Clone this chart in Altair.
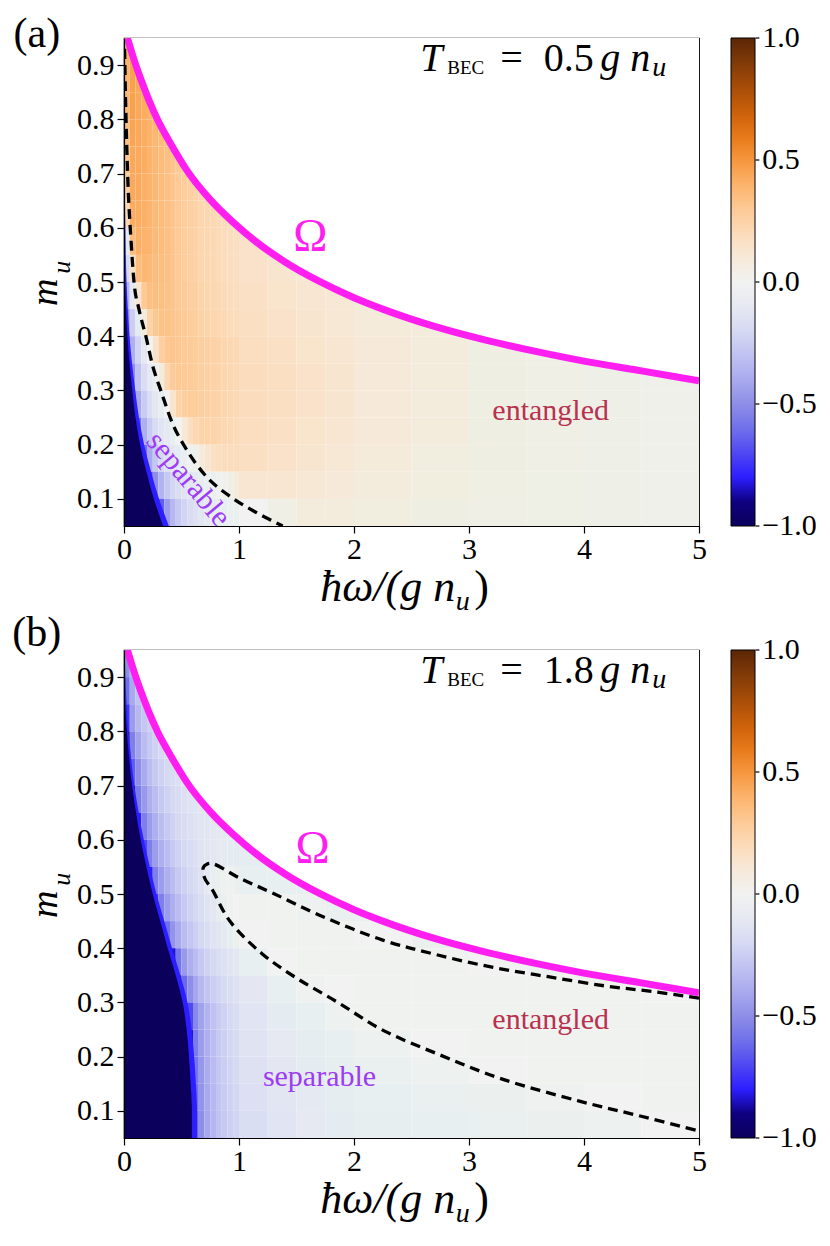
import altair as alt
import pandas as pd

FONT = "Liberation Serif"
MAGENTA = "#ff1ef0"
CRIMSON = "#b8324f"
VIOLET = "#9d3cf2"

# ---------------- heat-map cells ----------------
X_EDGES = [0, 0.05, 0.1, 0.15, 0.2, 0.25, 0.3, 0.35, 0.4, 0.45, 0.5, 0.55, 0.6, 0.65,
           0.7, 0.75, 0.8, 0.85, 0.9, 0.95, 1.0, 1.25, 1.5, 1.75, 2.0, 2.5, 3.0, 3.5,
           4.0, 4.5, 5.0]
M_EDGES = [0.95, 0.90, 0.85, 0.80, 0.75, 0.70, 0.65, 0.60, 0.55, 0.50,
           0.45, 0.40, 0.35, 0.30, 0.25, 0.20, 0.15, 0.10, 0.05]

# panel (a): rows from top (m=0.925) to bottom (m=0.075); missing cells = above Omega
GRID_A = [
    [0.40, 0.46, 0.44],
    [0.40, 0.46, 0.44, 0.42],
    [0.38, 0.46, 0.44, 0.42, 0.40, 0.38],
    [0.35, 0.45, 0.44, 0.42, 0.40, 0.38, 0.36, 0.34, 0.32],
    [0.32, 0.44, 0.43, 0.42, 0.40, 0.38, 0.36, 0.34, 0.32, 0.30, 0.28, 0.26],
    [0.28, 0.43, 0.43, 0.41, 0.40, 0.38, 0.36, 0.34, 0.32, 0.30, 0.28, 0.26, 0.24, 0.22, 0.21, 0.20],
    [0.22, 0.42, 0.42, 0.41, 0.39, 0.37, 0.36, 0.34, 0.32, 0.30, 0.28, 0.26, 0.25, 0.23, 0.22, 0.21,
     0.20, 0.19, 0.18, 0.17],
    [-0.1, 0.36, 0.41, 0.40, 0.39, 0.37, 0.36, 0.34, 0.32, 0.30, 0.28, 0.26, 0.25, 0.23, 0.22, 0.21,
     0.20, 0.19, 0.18, 0.17, 0.15, 0.13],
    [-0.2, 0.15, 0.36, 0.38, 0.37, 0.36, 0.35, 0.34, 0.32, 0.30, 0.28, 0.26, 0.25, 0.23, 0.22, 0.21,
     0.20, 0.19, 0.18, 0.17, 0.15, 0.13, 0.11],
    [-0.35, -0.1, 0.12, 0.30, 0.34, 0.35, 0.34, 0.33, 0.32, 0.30, 0.29, 0.27, 0.26, 0.24, 0.23, 0.22,
     0.21, 0.20, 0.19, 0.18, 0.16, 0.14, 0.12, 0.11, 0.09],
    [-0.5, -0.25, -0.08, 0.08, 0.25, 0.31, 0.33, 0.33, 0.32, 0.31, 0.30, 0.28, 0.27, 0.25, 0.24, 0.23,
     0.22, 0.21, 0.20, 0.19, 0.17, 0.15, 0.13, 0.11, 0.09, 0.08],
    [-0.7, -0.38, -0.22, -0.1, 0.0, 0.15, 0.27, 0.31, 0.32, 0.31, 0.30, 0.29, 0.28, 0.27, 0.26, 0.25,
     0.24, 0.23, 0.22, 0.21, 0.18, 0.16, 0.14, 0.12, 0.10, 0.08, 0.06, 0.05, 0.04],
    [-1.0, -0.5, -0.3, -0.18, -0.1, -0.03, 0.08, 0.22, 0.29, 0.30, 0.30, 0.29, 0.28, 0.27, 0.26, 0.25,
     0.24, 0.23, 0.22, 0.21, 0.19, 0.17, 0.15, 0.13, 0.10, 0.08, 0.06, 0.05, 0.04, 0.035],
    [-1.0, -0.7, -0.4, -0.26, -0.17, -0.11, -0.06, 0.0, 0.14, 0.24, 0.27, 0.28, 0.28, 0.27, 0.26, 0.25,
     0.24, 0.23, 0.22, 0.21, 0.19, 0.17, 0.15, 0.13, 0.10, 0.08, 0.06, 0.05, 0.04, 0.035],
    [-1.0, -1.0, -0.6, -0.38, -0.26, -0.18, -0.13, -0.09, -0.05, 0.0, 0.10, 0.18, 0.22, 0.24, 0.24, 0.24,
     0.23, 0.22, 0.21, 0.20, 0.18, 0.16, 0.14, 0.12, 0.10, 0.08, 0.06, 0.05, 0.04, 0.035],
    [-1.0, -1.0, -1.0, -0.6, -0.4, -0.28, -0.2, -0.15, -0.11, -0.08, -0.05, -0.02, 0.03, 0.09, 0.13, 0.16,
     0.18, 0.19, 0.19, 0.19, 0.17, 0.15, 0.13, 0.11, 0.09, 0.07, 0.06, 0.05, 0.04, 0.035],
    [-1.0, -1.0, -1.0, -1.0, -0.7, -0.5, -0.36, -0.27, -0.21, -0.17, -0.14, -0.11, -0.09, -0.07, -0.05,
     -0.03, -0.01, 0.02, 0.05, 0.08, 0.12, 0.12, 0.11, 0.10, 0.08, 0.07, 0.055, 0.045, 0.04, 0.035],
    [-1.0, -1.0, -1.0, -1.0, -1.0, -1.0, -0.65, -0.45, -0.34, -0.27, -0.22, -0.18, -0.15, -0.12, -0.1,
     -0.08, -0.06, -0.05, -0.04, -0.03, 0.0, 0.05, 0.08, 0.08, 0.07, 0.06, 0.05, 0.045, 0.04, 0.035],
]
# panel (b)
GRID_B = [
    [-0.5, -0.35, -0.28],
    [-0.6, -0.4, -0.3, -0.25],
    [-0.75, -0.45, -0.34, -0.28, -0.24, -0.21],
    [-1.0, -0.55, -0.42, -0.33, -0.27, -0.23, -0.2, -0.18, -0.16],
    [-1.0, -0.65, -0.5, -0.4, -0.32, -0.27, -0.23, -0.2, -0.18, -0.16, -0.14, -0.13],
    [-1.0, -0.9, -0.56, -0.46, -0.38, -0.32, -0.27, -0.23, -0.2, -0.18, -0.16, -0.14, -0.13, -0.12,
     -0.11, -0.1],
    [-1.0, -1.0, -0.8, -0.55, -0.45, -0.38, -0.32, -0.27, -0.23, -0.2, -0.18, -0.16, -0.14, -0.13,
     -0.12, -0.11, -0.1, -0.09, -0.085, -0.08],
    [-1.0, -1.0, -1.0, -0.7, -0.55, -0.45, -0.38, -0.32, -0.27, -0.23, -0.2, -0.18, -0.16, -0.14,
     -0.12, -0.11, -0.1, -0.09, -0.08, -0.075, -0.07, -0.06],
    [-1.0, -1.0, -1.0, -1.0, -0.8, -0.55, -0.45, -0.38, -0.32, -0.27, -0.23, -0.2, -0.17, -0.15,
     -0.1, -0.05, -0.03, -0.02, -0.02, -0.03, -0.05, -0.05, -0.05],
    [-1.0, -1.0, -1.0, -1.0, -1.0, -0.75, -0.55, -0.45, -0.38, -0.32, -0.27, -0.23, -0.2, -0.17,
     -0.14, -0.11, -0.07, -0.03, -0.01, 0.0, 0.01, 0.01, -0.02, -0.04, -0.04],
    [-1.0, -1.0, -1.0, -1.0, -1.0, -1.0, -0.9, -0.6, -0.48, -0.4, -0.33, -0.28, -0.24, -0.2,
     -0.17, -0.14, -0.12, -0.09, -0.06, -0.03, 0.0, 0.01, 0.01, 0.01, 0.0, -0.03],
    [-1.0, -1.0, -1.0, -1.0, -1.0, -1.0, -1.0, -1.0, -0.85, -0.58, -0.46, -0.38, -0.32, -0.27,
     -0.23, -0.2, -0.17, -0.15, -0.13, -0.11, -0.05, 0.0, 0.01, 0.01, 0.01, 0.01, 0.0, -0.02, -0.03],
    [-1.0, -1.0, -1.0, -1.0, -1.0, -1.0, -1.0, -1.0, -1.0, -1.0, -0.62, -0.5, -0.41, -0.34,
     -0.29, -0.25, -0.22, -0.19, -0.17, -0.15, -0.11, -0.05, -0.01, 0.0, 0.01, 0.01, 0.01, 0.01, 0.01, 0.0],
    [-1.0, -1.0, -1.0, -1.0, -1.0, -1.0, -1.0, -1.0, -1.0, -1.0, -1.0, -0.7, -0.52, -0.43,
     -0.36, -0.3, -0.26, -0.23, -0.2, -0.18, -0.13, -0.08, -0.05, -0.02, 0.01, 0.01, 0.01, 0.01, 0.01, 0.01],
    [-1.0, -1.0, -1.0, -1.0, -1.0, -1.0, -1.0, -1.0, -1.0, -1.0, -1.0, -0.85, -0.56, -0.45,
     -0.38, -0.32, -0.27, -0.24, -0.21, -0.19, -0.14, -0.1, -0.07, -0.05, -0.02, 0.0, 0.01, 0.01, 0.01, 0.01],
    [-1.0, -1.0, -1.0, -1.0, -1.0, -1.0, -1.0, -1.0, -1.0, -1.0, -1.0, -0.95, -0.58, -0.47,
     -0.39, -0.33, -0.28, -0.25, -0.22, -0.2, -0.15, -0.11, -0.08, -0.06, -0.04, -0.02, 0.0, 0.01, 0.01, 0.01],
    [-1.0, -1.0, -1.0, -1.0, -1.0, -1.0, -1.0, -1.0, -1.0, -1.0, -1.0, -1.0, -0.6, -0.48,
     -0.4, -0.34, -0.29, -0.26, -0.23, -0.21, -0.16, -0.12, -0.09, -0.07, -0.05, -0.04, -0.03, -0.01, 0.0, 0.01],
    [-1.0, -1.0, -1.0, -1.0, -1.0, -1.0, -1.0, -1.0, -1.0, -1.0, -1.0, -1.0, -0.62, -0.5,
     -0.41, -0.35, -0.3, -0.27, -0.24, -0.22, -0.17, -0.13, -0.1, -0.08, -0.06, -0.05, -0.04, -0.03, -0.02, 0.0],
]

# saturated region (value <= -1) and its bright-blue rim: right edge per m
DARK_A_M = [0.05, 0.10, 0.15, 0.20, 0.25, 0.30, 0.35, 0.40, 0.45, 0.50, 0.60, 0.70, 0.95]
DARK_A_X = [0.34, 0.26, 0.195, 0.14, 0.10, 0.072, 0.048, 0.03, 0.018, 0.01, 0.005, 0.002, 0.0]
RIM_A_X = [0.39, 0.305, 0.235, 0.175, 0.13, 0.098, 0.07, 0.048, 0.033, 0.022, 0.012, 0.006, 0.002]

DARK_B_M = [0.05, 0.10, 0.15, 0.20, 0.25, 0.30, 0.35, 0.40, 0.45, 0.50, 0.55, 0.60, 0.65,
            0.70, 0.75, 0.80, 0.85, 0.90, 0.95]
DARK_B_X = [0.59, 0.59, 0.58, 0.565, 0.545, 0.51, 0.45, 0.38, 0.315, 0.25, 0.195, 0.145, 0.105,
            0.07, 0.045, 0.025, 0.01, 0.003, 0.0]
RIM_B_X = [0.635, 0.635, 0.625, 0.61, 0.588, 0.552, 0.49, 0.418, 0.35, 0.282, 0.225, 0.172, 0.128,
           0.09, 0.062, 0.04, 0.022, 0.012, 0.005]

# ---------------- curves ----------------
OMEGA_X = [0.03, 0.08, 0.15, 0.29, 0.42, 0.55, 0.75, 0.95, 1.15, 1.40, 1.70, 2.00,
           2.25, 2.70, 3.12, 3.60, 4.00, 4.50, 5.00]
OMEGA_M = [0.95, 0.915, 0.872, 0.80, 0.75, 0.705, 0.652, 0.61, 0.574, 0.537, 0.501, 0.471,
           0.450, 0.418, 0.394, 0.371, 0.354, 0.336, 0.318]

SEP_A_X = [0.005, 0.012, 0.02, 0.035, 0.06, 0.087, 0.13, 0.19, 0.25, 0.32, 0.42,
           0.535, 0.7, 0.94, 1.15, 1.38]
SEP_A_M = [0.93, 0.85, 0.78, 0.68, 0.58, 0.50, 0.45, 0.40, 0.345, 0.30, 0.24,
           0.194, 0.145, 0.102, 0.075, 0.05]

SEP_B_X = [5.0, 4.6, 4.2, 3.7, 3.2, 2.7, 2.25, 1.7, 1.3, 1.0, 0.77, 0.72, 0.69,
           0.70, 0.77, 0.92, 1.2, 1.5, 1.86, 2.24, 2.75, 3.27, 3.96, 4.48, 5.0]
SEP_B_M = [0.308, 0.320, 0.330, 0.347, 0.365, 0.389, 0.415, 0.461, 0.501, 0.53, 0.556, 0.555, 0.549,
           0.53, 0.507, 0.45, 0.39, 0.345, 0.30, 0.25, 0.203, 0.16, 0.118, 0.091, 0.063]

# ---------------- colour map / colour bar ----------------
CMAP_VALUES = [-1.0, -0.9, -0.85, -0.8, -0.7, -0.6, -0.5, -0.4, -0.3, -0.2, -0.1,
               0.0, 0.1, 0.2, 0.3, 0.4, 0.5, 0.6, 0.7, 0.8, 0.9, 1.0]
CMAP_COLORS = ["#0b005c", "#0e0080", "#1d12d8", "#2c1eff", "#5048f2", "#7070ea",
               "#8e8ee8", "#a9aaee", "#c0c2f2", "#d6d9f2", "#e6e9f2", "#f1f2f1",
               "#f7e9d9", "#fcdbb9", "#fdc995", "#fcb36b", "#f6963e", "#e67818",
               "#c95f0a", "#a64c08", "#803a07", "#5c2606"]
CBAR_TICKS = [-1.0, -0.5, 0.0, 0.5, 1.0]
CBAR_LABELS = ["\u22121.0", "\u22120.5", "0.0", "0.5", "1.0"]

T_VALUES = ["0.5", "1.8"]
LETTERS = ["(a)", "(b)"]

M_LO, M_HI = 0.05, 0.95


def grid_frame(grid):
    rows = []
    ncol = len(X_EDGES) - 1
    for i, row in enumerate(grid):
        assert len(row) <= ncol
        for j, v in enumerate(row):
            rows.append({"x0": X_EDGES[j], "x1": X_EDGES[j + 1],
                         "m0": M_EDGES[i + 1], "m1": M_EDGES[i], "v": v})
    return pd.DataFrame(rows)


xscale = alt.Scale(domain=[0, 5], nice=False, zero=False)
yscale = alt.Scale(domain=[M_LO, M_HI], nice=False, zero=False)
cscale = alt.Scale(type="linear", domain=CMAP_VALUES, range=CMAP_COLORS, clamp=True)

xaxis = alt.Axis(values=[0, 1, 2, 3, 4, 5], format="d", title=None, grid=False,
                 domain=True, domainColor="black", domainWidth=1.2,
                 tickSize=7, tickColor="black", tickWidth=1.2,
                 labelFont=FONT, labelFontSize=30, labelColor="black",
                 labelPadding=1, labelFlush=False, zindex=1)
yaxis = alt.Axis(values=[0.1, 0.2, 0.3, 0.4, 0.5, 0.6, 0.7, 0.8, 0.9], format=".1f",
                 title=None, grid=False, domain=True, domainColor="black", domainWidth=1.2,
                 tickSize=7, tickColor="black", tickWidth=1.2,
                 labelFont=FONT, labelFontSize=30, labelColor="black",
                 labelPadding=3, labelFlush=False, zindex=1)
# the gradient itself comes from the legend; its labels are drawn as text marks below
legend = alt.Legend(type="gradient", title=None, orient="right", offset=32, direction="vertical",
                    gradientLength=488, gradientThickness=24, padding=0,
                    values=CBAR_TICKS, labelExpr="''", labelFontSize=1, labelOffset=0,
                    gradientStrokeColor="black", gradientStrokeWidth=1)


def text_layer(s, x, m, size, italic=False, color="black", align="left",
               baseline="alphabetic", angle=0):
    mk = dict(font=FONT, fontSize=size, fontStyle="italic" if italic else "normal",
              color=color, align=align, baseline=baseline)
    if angle:
        mk["angle"] = angle
    return alt.Chart(pd.DataFrame({"t": [s]})).mark_text(**mk).encode(
        x=alt.datum(x), y=alt.datum(m), text="t:N")


def colorbar_marks():
    # the colour bar spans the full plot height: value v sits at m = mid + v * half-range
    mid, half = (M_LO + M_HI) / 2, (M_HI - M_LO) / 2
    df = pd.DataFrame({"lab": CBAR_LABELS, "m": [mid + v * half for v in CBAR_TICKS]})
    ticks = alt.Chart(df).mark_rule(color="black", strokeWidth=1.2).encode(
        x=alt.datum(5.49), x2=alt.datum(5.525), y="m:Q")
    labels = alt.Chart(df).mark_text(font=FONT, fontSize=30, color="black", align="left",
                                     baseline="middle").encode(
        x=alt.datum(5.55), y="m:Q", text="lab:N")
    return [ticks, labels]


def panel(grid, dark_m, dark_x, rim_x, sep_x, sep_m, sep_interp, tval, letter,
          letter_m, omega_pos, ent_pos, sep_lab):
    heat = alt.Chart(grid_frame(grid)).mark_rect().encode(
        x=alt.X("x0:Q", scale=xscale, axis=xaxis),
        x2="x1:Q",
        y=alt.Y("m0:Q", scale=yscale, axis=yaxis),
        y2="m1:Q",
        color=alt.Color("v:Q", scale=cscale, legend=legend),
    )
    ddf = pd.DataFrame({"m": dark_m, "xd": dark_x, "xr": rim_x})
    rim = alt.Chart(ddf).mark_area(orient="horizontal", interpolate="monotone", clip=True,
                                   color=CMAP_COLORS[3]).encode(
        y="m:Q", x="xr:Q", x2=alt.datum(0))
    dark = alt.Chart(ddf).mark_area(orient="horizontal", interpolate="monotone", clip=True,
                                    color=CMAP_COLORS[0]).encode(
        y="m:Q", x="xd:Q", x2=alt.datum(0))
    om = pd.DataFrame({"x": OMEGA_X, "m": OMEGA_M})
    mask = alt.Chart(om).mark_area(color="white", interpolate="monotone", clip=True).encode(
        x="x:Q", y="m:Q", y2=alt.datum(M_HI))
    omega = alt.Chart(om).mark_line(color=MAGENTA, strokeWidth=7, interpolate="monotone",
                                    clip=True).encode(x="x:Q", y="m:Q")
    sdf = pd.DataFrame({"x": sep_x, "m": sep_m, "i": list(range(len(sep_x)))})
    sep = alt.Chart(sdf).mark_line(color="black", strokeWidth=3.3, strokeDash=[10, 6],
                                   interpolate=sep_interp, clip=True).encode(
        x="x:Q", y="m:Q", order="i:Q")

    texts = [
        text_layer(letter, -0.758, letter_m, 42, align="center"),
        # title T_BEC = ... g n_u
        text_layer("T", 2.577, 0.889, 40, italic=True),
        text_layer("BEC", 2.811, 0.883, 19),
        text_layer("=", 3.272, 0.889, 40),
        text_layer(tval, 3.65, 0.889, 40),
        text_layer("g", 4.142, 0.889, 40, italic=True),
        text_layer("n", 4.403, 0.889, 40, italic=True),
        text_layer("u", 4.594, 0.879, 28, italic=True),
        # axis titles
        text_layer("ħω/(g n", 2.88, -0.089, 44, italic=True, align="right"),
        text_layer("u", 2.885, -0.104, 28, italic=True),
        text_layer(")", 3.046, -0.089, 44),
        text_layer("m", -0.58, 0.481, 38, italic=True, align="center", angle=270),
        text_layer("u", -0.467, 0.527, 26, italic=True, align="center", angle=270),
        # annotations
        text_layer("Ω", omega_pos[0], omega_pos[1], 46, color=MAGENTA, align="center"),
        text_layer("entangled", ent_pos[0], ent_pos[1], 30, color=CRIMSON,
                   align="center", baseline="middle"),
        text_layer("separable", sep_lab[0], sep_lab[1], 30, color=VIOLET,
                   align="center", baseline="middle", angle=sep_lab[2]),
    ]
    return alt.layer(heat, rim, dark, mask, omega, sep, *colorbar_marks(), *texts).properties(
        width=575, height=488)


pa = panel(GRID_A, DARK_A_M, DARK_A_X, RIM_A_X, SEP_A_X, SEP_A_M, "monotone",
           T_VALUES[0], LETTERS[0], 0.934, (1.62, 0.557), (3.71, 0.262), (0.56, 0.136, 50))
pb = panel(GRID_B, DARK_B_M, DARK_B_X, RIM_B_X, SEP_B_X, SEP_B_M, "catmull-rom",
           T_VALUES[1], LETTERS[1], 0.957, (1.64, 0.558), (3.71, 0.268), (1.70, 0.163, 0))

chart = (
    alt.vconcat(pa, pb, spacing=124, bounds="flush")
    .resolve_scale(color="independent")
    .resolve_legend(color="independent")
    .properties(padding={"top": 4, "left": 3, "right": 0, "bottom": 0}, background="white")
    .configure_view(stroke="black", strokeWidth=1.2)
)

chart.save("out.html", embed_options={"renderer": "svg", "actions": False})
